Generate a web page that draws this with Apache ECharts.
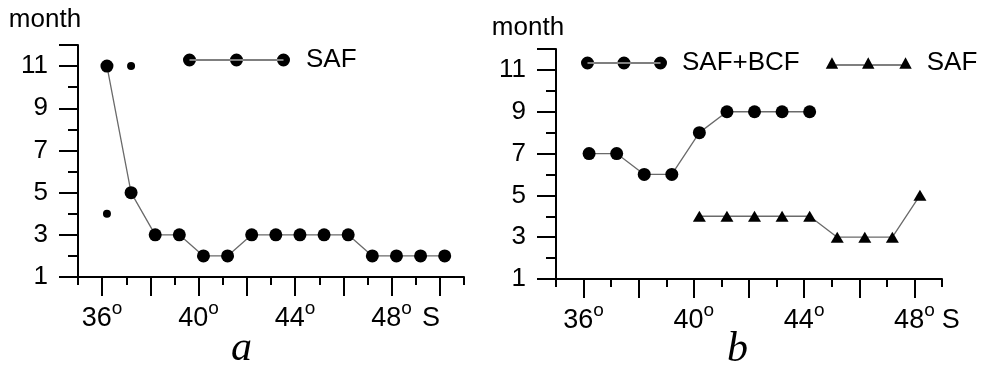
<!DOCTYPE html>
<html><head><meta charset="utf-8">
<script src="https://cdn.jsdelivr.net/npm/echarts@6/dist/echarts.min.js"></script>
<style>html,body{margin:0;padding:0;background:#fff}#c{width:981px;height:366px}</style>
</head><body><div id="c"></div>
<script>
// ---- data ----
const safLatA = [36.2,37.2,38.2,39.2,40.2,41.2,42.2,43.2,44.2,45.2,46.2,47.2,48.2,49.2,50.2];
const safMonthA = [11,5,3,3,2,2,3,3,3,3,3,2,2,2,2];
const extraLatA = [36.2,37.2];
const extraMonthA = [4,11];
const bcfLatB = [36.2,37.2,38.2,39.2,40.2,41.2,42.2,43.2,44.2];
const bcfMonthB = [7,7,6,6,8,9,9,9,9];
const safLatB = [40.2,41.2,42.2,43.2,44.2,45.2,46.2,47.2,48.2];
const safMonthB = [4,4,4,4,4,3,3,3,5];
const xLabelValues = [36,40,44,48];
const xLastLabel = 48;
const yLabelValues = [1,3,5,7,9,11];
const yMajorTicks = [1,3,5,7,9,11,12];
const yMinorTicks = [2,4,6,8,10];
const xMajorTicksA = [36,38,40,42,44,46,48,50];
const xMinorTicksA = [35,37,39,41,43,45,47,49,51];
const xMajorTicksB = [36,38,40,42,44,46,48];
const xMinorTicksB = [35,37,39,41,43,45,47,49];

const FONT = 'Liberation Sans';
const BLACK = '#000';
const lineW = 2;

function pair(arrX, arrY){ return arrX.map((x,i)=>[x, arrY[i]]); }

function xAxes(g, max, majors, minors, sPadLeft){
  const tail = sPadLeft + 18;
  return [
    { type:'value', gridIndex:g, min:35, max:max, position:'bottom',
      axisLine:{show:true, onZero:false, lineStyle:{color:BLACK, width:lineW}},
      axisTick:{show:true, customValues:majors, length:19, lineStyle:{color:BLACK, width:lineW}},
      axisLabel:{customValues:xLabelValues, margin:27, color:BLACK, fontFamily:FONT, fontSize:27,
        formatter:v=> v===xLastLabel ? '{gap|}{n|'+v+'}{sup|o}{s|S}' : '{n|'+v+'}{sup|o}',
        rich:{
          n:{fontSize:27, fontFamily:FONT, color:BLACK, lineHeight:30},
          sup:{fontSize:19, fontFamily:FONT, color:BLACK, verticalAlign:'middle', lineHeight:19, padding:[0,0,20,0]},
          s:{fontSize:27, fontFamily:FONT, color:BLACK, lineHeight:30, padding:[0,0,0,sPadLeft]},
          gap:{width:tail, lineHeight:30}
        }},
      splitLine:{show:false}
    },
    { type:'value', gridIndex:g, min:35, max:max, position:'bottom',
      axisLine:{show:false, onZero:false},
      axisTick:{show:true, customValues:minors, length:8, lineStyle:{color:BLACK, width:lineW}},
      axisLabel:{show:false}, splitLine:{show:false}
    }
  ];
}
function yAxes(g, nameGap, namePad){
  return [
    { type:'value', gridIndex:g, min:1, max:12, position:'left',
      axisLine:{show:true, onZero:false, lineStyle:{color:BLACK, width:lineW}},
      axisTick:{show:true, customValues:yMajorTicks, length:19, lineStyle:{color:BLACK, width:lineW}},
      axisLabel:{customValues:yLabelValues, margin:30, color:BLACK, fontFamily:FONT, fontSize:26},
      splitLine:{show:false},
      name:'month', nameLocation:'end', nameGap:nameGap,
      nameTextStyle:{color:BLACK, fontFamily:FONT, fontSize:26, align:'center', padding:namePad}
    },
    { type:'value', gridIndex:g, min:1, max:12, position:'left',
      axisLine:{show:false, onZero:false},
      axisTick:{show:true, customValues:yMinorTicks, length:10, lineStyle:{color:BLACK, width:lineW}},
      axisLabel:{show:false}, splitLine:{show:false}
    }
  ];
}

const circleIcon = 'path://M0,6.5a6.5,6.5 0 1,0 13,0a6.5,6.5 0 1,0 -13,0Z' +
  'M47,6.5a6.5,6.5 0 1,0 13,0a6.5,6.5 0 1,0 -13,0Z' +
  'M94,6.5a6.5,6.5 0 1,0 13,0a6.5,6.5 0 1,0 -13,0Z' +
  'M6.5,6L100.5,6L100.5,7L6.5,7Z';
const circleIconB = 'path://M0,6.5a6.5,6.5 0 1,0 13,0a6.5,6.5 0 1,0 -13,0Z' +
  'M36.5,6.5a6.5,6.5 0 1,0 13,0a6.5,6.5 0 1,0 -13,0Z' +
  'M73,6.5a6.5,6.5 0 1,0 13,0a6.5,6.5 0 1,0 -13,0Z' +
  'M6.5,6L79.5,6L79.5,7L6.5,7Z';
const triIcon = 'path://M0,11L6,0L12,11Z M35,11L41,0L47,11Z M71,11L77,0L83,11Z M6,7L77,7L77,8L6,8Z';

const lineStyle = {color:'#6a6a6a', width:1.3};

const option = {
  animation:false,
  backgroundColor:'#fff',
  grid:[
    {left:78, right:517, top:45, bottom:89},
    {left:556, right:39, top:49, bottom:87}
  ],
  title:[
    {text:'a', left:231, top:328, padding:0, textStyle:{fontFamily:'Liberation Serif', fontStyle:'italic', fontWeight:'normal', fontSize:42, color:BLACK}},
    {text:'b', left:727, top:329, padding:0, textStyle:{fontFamily:'Liberation Serif', fontStyle:'italic', fontWeight:'normal', fontSize:42, color:BLACK}}
  ],
  legend:[
    {left:183, top:47, padding:0, itemWidth:107, itemHeight:13, itemGap:23,
     textStyle:{fontFamily:FONT, fontSize:26, color:BLACK, padding:[0,0,0,11]},
     data:[{name:'SAF', icon:circleIcon}], selectedMode:false},
    {left:581, top:50, padding:0, itemWidth:86, itemHeight:13, itemGap:26,
     textStyle:{fontFamily:FONT, fontSize:26, color:BLACK, padding:[0,0,0,10]},
     data:[{name:'SAF+BCF', icon:circleIconB},{name:'SAF', icon:triIcon, itemWidth:83, itemHeight:11}], selectedMode:false}
  ],
  xAxis:[].concat(xAxes(0, 51, xMajorTicksA, xMinorTicksA, 10),
                  xAxes(1, 49, xMajorTicksB, xMinorTicksB, 7)),
  yAxis:[].concat(yAxes(0, 12, [0,66,0,0]), yAxes(1, 8, [0,56,0,0])),
  series:[
    {name:'SAF', type:'line', xAxisIndex:0, yAxisIndex:0, data:pair(safLatA, safMonthA),
     symbol:'circle', symbolSize:13, itemStyle:{color:BLACK}, lineStyle:lineStyle},
    {name:'extra', type:'scatter', xAxisIndex:0, yAxisIndex:0, data:pair(extraLatA, extraMonthA),
     symbol:'circle', symbolSize:8, itemStyle:{color:BLACK, opacity:1}},
    {name:'SAF+BCF', type:'line', xAxisIndex:2, yAxisIndex:2, data:pair(bcfLatB, bcfMonthB),
     symbol:'circle', symbolSize:13, itemStyle:{color:BLACK}, lineStyle:lineStyle},
    {name:'SAF', type:'line', xAxisIndex:2, yAxisIndex:2, data:pair(safLatB, safMonthB),
     symbol:'triangle', symbolSize:[13,11], itemStyle:{color:BLACK}, lineStyle:lineStyle}
  ]
};
const chart = echarts.init(document.getElementById('c'), null, {renderer:'canvas'});
chart.setOption(option);
</script></body></html>
